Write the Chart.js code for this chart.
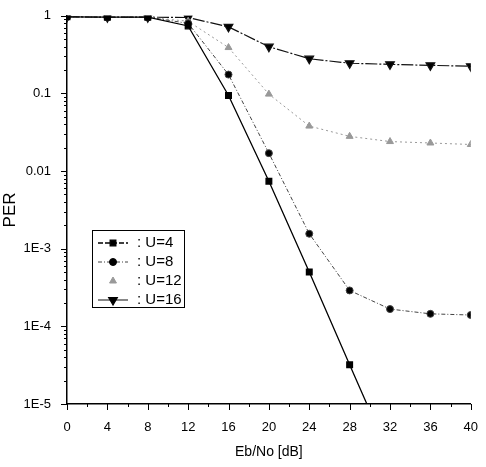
<!DOCTYPE html>
<html>
<head>
<meta charset="utf-8">
<script src="https://cdn.jsdelivr.net/npm/chart.js@4.4.0/dist/chart.umd.min.js"></script>
<style>
  html, body { margin: 0; padding: 0; background: #fff; }
</style>
</head>
<body>
<canvas id="per_chart" width="486" height="467"></canvas>
<script>
// Eb/No values (dB) and PER per user count
const ebno = [0, 4, 8, 12, 16, 20, 24, 28, 32, 36, 40];
const perU4 = [0.97, 0.96, 0.96, 0.74, 0.094, 0.0074, 0.0005, 0.000032, 0.0000021, null, null];
const perU8 = [0.97, 0.96, 0.96, 0.8, 0.175, 0.017, 0.00156, 0.00029, 0.000167, 0.000145, 0.00014];
const perU12 = [0.97, 0.96, 0.96, 0.85, 0.39, 0.098, 0.038, 0.028, 0.024, 0.023, 0.022];
const perU16 = [0.97, 0.96, 0.96, 0.95, 0.72, 0.40, 0.28, 0.245, 0.237, 0.23, 0.224];
const yTicks = [1, 0.1, 0.01, 1e-3, 1e-4, 1e-5];
const yLabels = ['1', '0.1', '0.01', '1E-3', '1E-4', '1E-5'];
const xTicks = [0, 4, 8, 12, 16, 20, 24, 28, 32, 36, 40];

function pts(arr) {
    return ebno.map((x, i) => ({ x: x, y: arr[i] }));
}

const series = [
    { label: 'U=4', data: pts(perU4), borderColor: '#000', pointBackgroundColor: '#000', pointStyle: 'rect', pointRadius: 4, borderDash: [], borderWidth: 1.3 },
    { label: 'U=8', data: pts(perU8), borderColor: '#444', pointBackgroundColor: '#000', pointStyle: 'circle', pointRadius: 3.5, borderDash: [4, 2, 1, 2], borderWidth: 1 },
    { label: 'U=12', data: pts(perU12), borderColor: '#999', pointBackgroundColor: '#999', pointStyle: 'triangle', pointRadius: 4, borderDash: [2, 3], borderWidth: 1 },
    { label: 'U=16', data: pts(perU16), borderColor: '#111', pointBackgroundColor: '#000', pointStyle: 'triangle', pointRotation: 180, pointRadius: 5, borderDash: [12, 2, 2, 2], borderWidth: 1.2 }
];

// Draws the outward tick marks and the boxed legend
const axisDecor = {
    id: 'axisDecor',
    afterDraw(chart) {
        const ctx = chart.ctx;
        const xs = chart.scales.x, ys = chart.scales.y;
        const area = chart.chartArea;
        ctx.save();
        ctx.strokeStyle = '#000';
        ctx.lineWidth = 1;
        // x ticks
        for (let v = 0; v <= 40; v += 2) {
            const px = Math.round(xs.getPixelForValue(v)) + 0.5;
            const len = (v % 4 === 0) ? 6 : 3;
            ctx.beginPath();
            ctx.moveTo(px, area.bottom);
            ctx.lineTo(px, area.bottom + len);
            ctx.stroke();
        }
        // y ticks
        for (let e = -5; e <= 0; e++) {
            for (let m = 1; m <= 9; m++) {
                const v = m * Math.pow(10, e);
                if (v > 1.0001) break;
                const py = Math.round(ys.getPixelForValue(v)) + 0.5;
                const len = (m === 1) ? 6 : 3;
                ctx.beginPath();
                ctx.moveTo(area.left, py);
                ctx.lineTo(area.left - len, py);
                ctx.stroke();
            }
        }
        // legend
        const bx = 92, by = 230, bw = 92, bh = 77;
        ctx.lineWidth = 1;
        ctx.strokeRect(bx + 0.5, by + 0.5, bw, bh);
        ctx.font = '15px "Liberation Sans", Arial, sans-serif';
        ctx.textBaseline = 'middle';
        chart.data.datasets.forEach((ds, i) => {
            const ry = by + 13 + i * 19;
            ctx.save();
            ctx.strokeStyle = ds.borderColor;
            ctx.lineWidth = ds.borderWidth;
            ctx.setLineDash(ds.borderDash.length ? ds.borderDash : [5, 2]);
            if (i !== 2) {
                ctx.beginPath();
                ctx.moveTo(bx + 6, ry);
                ctx.lineTo(bx + 36, ry);
                ctx.stroke();
            }
            ctx.setLineDash([]);
            ctx.fillStyle = ds.pointBackgroundColor;
            ctx.strokeStyle = ds.pointBackgroundColor;
            Chart.helpers.drawPoint(ctx, {
                pointStyle: ds.pointStyle,
                rotation: ds.pointRotation || 0,
                radius: ds.pointRadius,
                borderWidth: 1
            }, bx + 21, ry);
            ctx.restore();
            ctx.fillStyle = '#000';
            ctx.fillText(': ' + ds.label, bx + 45, ry);
        });
        ctx.restore();
    }
};

const config = {
    type: 'line',
    data: { datasets: series },
    options: {
        responsive: false,
        animation: false,
        layout: { padding: { top: 12, right: 12, left: 0, bottom: 0 } },
        plugins: {
            legend: { display: false },
            tooltip: { enabled: false }
        },
        elements: {
            line: { tension: 0, fill: false },
            point: { borderWidth: 1 }
        },
        scales: {
            x: {
                type: 'linear',
                min: 0,
                max: 40,
                afterBuildTicks: (s) => { s.ticks = xTicks.map(v => ({ value: v })); },
                afterFit: (s) => { s.height = 63; },
                grid: { display: false },
                border: { display: true, color: '#000', width: 1.5 },
                ticks: {
                    color: '#000',
                    padding: 8,
                    font: { family: '"Liberation Sans", Arial, sans-serif', size: 13 }
                },
                title: {
                    display: true,
                    text: 'Eb/No [dB]',
                    color: '#000',
                    padding: { top: 0, bottom: 6 },
                    font: { family: '"Liberation Sans", Arial, sans-serif', size: 14 }
                }
            },
            y: {
                type: 'logarithmic',
                min: 1e-5,
                max: 1,
                afterBuildTicks: (s) => { s.ticks = yTicks.map(v => ({ value: v })); },
                afterFit: (s) => { s.width = 67; },
                grid: { display: false },
                border: { display: true, color: '#000', width: 1.5 },
                ticks: {
                    color: '#000',
                    padding: 8,
                    font: { family: '"Liberation Sans", Arial, sans-serif', size: 13 },
                    callback: (v) => {
                        const i = yTicks.findIndex(t => Math.abs(Math.log10(t) - Math.log10(v)) < 1e-6);
                        return i >= 0 ? yLabels[i] : '';
                    }
                },
                title: {
                    display: true,
                    text: 'PER',
                    color: '#000',
                    padding: { top: 0, bottom: 0 },
                    font: { family: '"Liberation Sans", Arial, sans-serif', size: 17 }
                }
            }
        }
    },
    plugins: [axisDecor]
};

const per_chart = new Chart(document.getElementById('per_chart'), config);
</script>
</body>
</html>
